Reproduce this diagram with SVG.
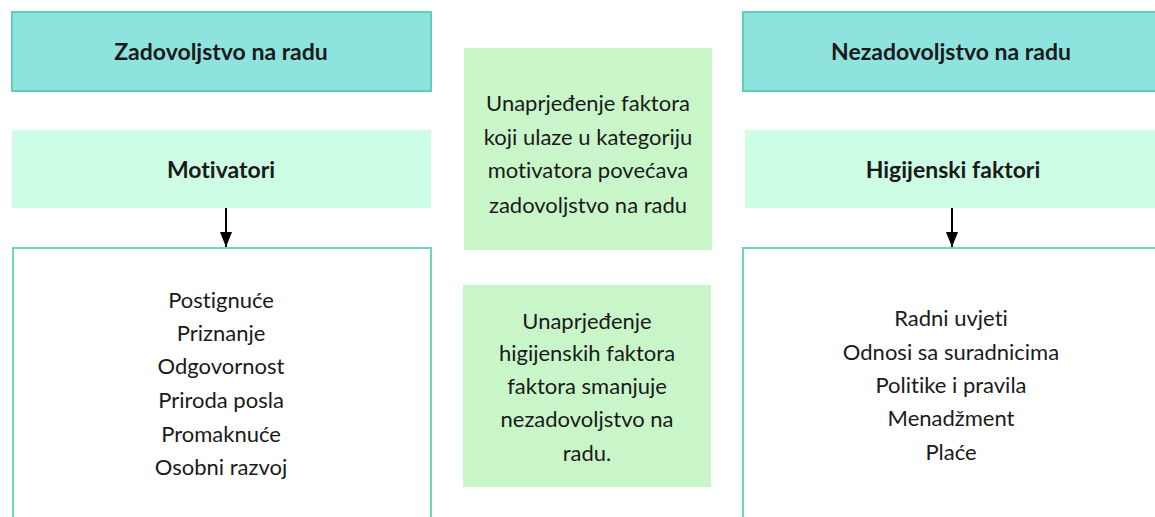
<svg xmlns="http://www.w3.org/2000/svg" width="1155" height="517" viewBox="0 0 1155 517">
<style>
.head{fill:#8fe3df;stroke:#5fcfb8;stroke-width:2}
.sub{fill:#cdfde5}
.mid{fill:#c9f6c9}
.list{fill:#ffffff;stroke:#6fd4c0;stroke-width:2}
text{font-family:Lato,"Open Sans","Liberation Sans",sans-serif;fill:#1a1a1a;text-anchor:middle;font-variant-ligatures:none}
.b{font-weight:bold;font-size:23px}
.t{font-size:22px}
</style>
<defs>
<marker id="ah" markerWidth="15" markerHeight="12" refX="15" refY="6" orient="auto" markerUnits="userSpaceOnUse" viewBox="0 0 15 12">
<path d="M0,0 L15,6 L0,12 Z" fill="#000"/>
</marker>
</defs>
<rect width="1155" height="517" fill="#ffffff"/>
<g id="n-zadovoljstvo"><rect class="head" x="12" y="12" width="419" height="79"/><text class="b" x="221" y="60">Zadovoljstvo na radu</text></g>
<g id="n-motivatori"><rect class="sub" x="12" y="130" width="419" height="78"/><text class="b" x="221" y="178">Motivatori</text></g>
<g id="n-motivatori-list"><rect class="list" x="13" y="248" width="418" height="290"/>
<text class="t" x="221" y="308">Postignuće</text>
<text class="t" x="221" y="341">Priznanje</text>
<text class="t" x="221" y="374">Odgovornost</text>
<text class="t" x="221" y="408">Priroda posla</text>
<text class="t" x="221" y="442">Promaknuće</text>
<text class="t" x="221" y="475">Osobni razvoj</text>
</g>
<g id="n-info1"><rect class="mid" x="464" y="48" width="248" height="202"/>
<text class="t" x="588" y="111">Unaprjeđenje faktora</text>
<text class="t" x="588" y="145">koji ulaze u kategoriju</text>
<text class="t" x="588" y="178">motivatora povećava</text>
<text class="t" x="588" y="213">zadovoljstvo na radu</text>
</g>
<g id="n-info2"><rect class="mid" x="463" y="285" width="248" height="202"/>
<text class="t" x="587" y="329">Unaprjeđenje</text>
<text class="t" x="587" y="361">higijenskih faktora</text>
<text class="t" x="587" y="394">faktora smanjuje</text>
<text class="t" x="587" y="427">nezadovoljstvo na</text>
<text class="t" x="587" y="461">radu.</text>
</g>
<g id="n-nezadovoljstvo"><rect class="head" x="743" y="12" width="425" height="79"/><text class="b" x="951" y="60">Nezadovoljstvo na radu</text></g>
<g id="n-higijenski"><rect class="sub" x="745" y="130" width="420" height="78"/><text class="b" x="953" y="178">Higijenski faktori</text></g>
<g id="n-higijenski-list"><rect class="list" x="743" y="248" width="425" height="290"/>
<text class="t" x="951" y="326">Radni uvjeti</text>
<text class="t" x="951" y="360">Odnosi sa suradnicima</text>
<text class="t" x="951" y="393">Politike i pravila</text>
<text class="t" x="951" y="426">Menadžment</text>
<text class="t" x="951" y="460">Plaće</text>
</g>
<g id="connectors" stroke="#000" stroke-width="2" fill="none">
<line x1="226" y1="208" x2="226" y2="247" marker-end="url(#ah)"/>
<line x1="952" y1="208" x2="952" y2="247" marker-end="url(#ah)"/>
</g>
</svg>
